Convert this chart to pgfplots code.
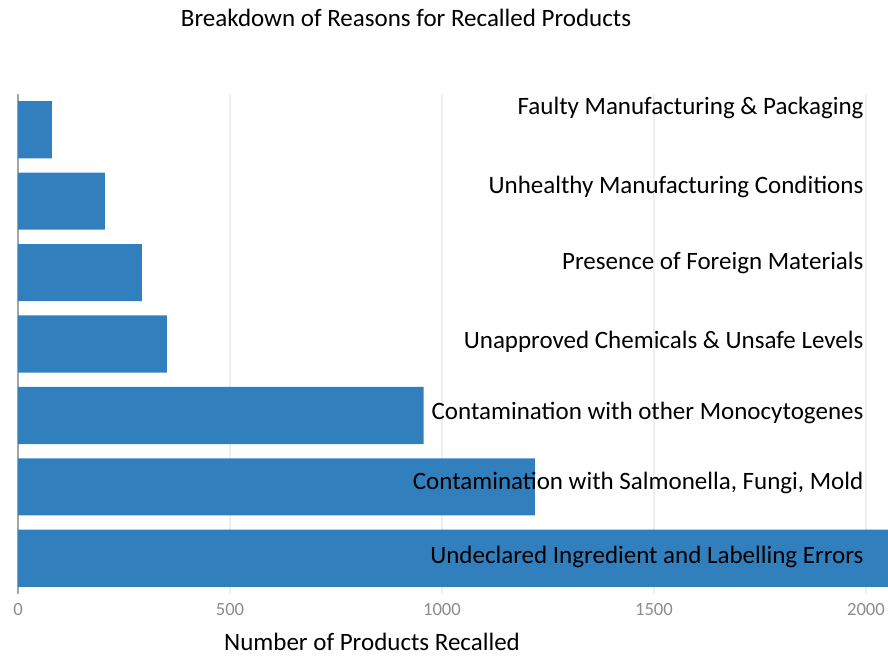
\documentclass[border=0pt]{standalone}
\usepackage{pgfplots}
\pgfplotsset{compat=1.18}
\usepackage{fontspec}
\setmainfont{Carlito}
\definecolor{barblue}{RGB}{50,127,189}
\definecolor{gridgray}{RGB}{238,238,238}
\definecolor{tickgray}{RGB}{140,140,140}
\begin{document}
\begin{tikzpicture}
\path[use as bounding box] (-9pt,-30.5pt) rectangle (435pt,297pt);
\begin{axis}[
  at={(0pt,0pt)}, anchor=south west,
  width=435pt, height=250pt, scale only axis,
  xmin=0, xmax=2052, ymin=-0.5, ymax=6.5,
  xbar, bar width=0.8,
  axis lines*=left,
  x axis line style={draw=none},
  y axis line style={draw=gray!70, line width=0.8pt},
  xtick={0,500,1000,1500,2000},
  ytick=\empty,
  major tick length=0pt,
  xmajorgrids, grid style={gridgray, line width=0.6pt},
  /pgf/number format/assume math mode=true,
  /pgf/number format/set thousands separator={},
  xticklabel style={font=\fontsize{9.3}{11}\selectfont, text=tickgray, yshift=-1pt},
  clip=true,
]
\addplot[fill=barblue, draw=none] coordinates {
 (2100,0) (1219,1) (957,2) (351,3) (292,4) (205,5) (80,6)
};
\begin{scope}[every node/.style={anchor=east, font=\fontsize{12.5}{14}\selectfont, inner sep=0pt}]
\node at (axis cs:1995,0.02) {Undeclared Ingredient and Labelling Errors};
\node at (axis cs:1995,1.06) {Contamination with Salmonella, Fungi, Mold};
\node at (axis cs:1995,2.03) {Contamination with other Monocytogenes};
\node at (axis cs:1995,3.03) {Unapproved Chemicals \& Unsafe Levels};
\node at (axis cs:1995,4.13) {Presence of Foreign Materials};
\node at (axis cs:1995,5.20) {Unhealthy Manufacturing Conditions};
\node at (axis cs:1995,6.31) {Faulty Manufacturing \& Packaging};
\end{scope}
\end{axis}
\node[font=\fontsize{12.5}{14}\selectfont] at (194pt,288pt) {Breakdown of Reasons for Recalled Products};
\node[font=\fontsize{12.5}{14}\selectfont] at (177pt,-24pt) {Number of Products Recalled};
\end{tikzpicture}
\end{document}
